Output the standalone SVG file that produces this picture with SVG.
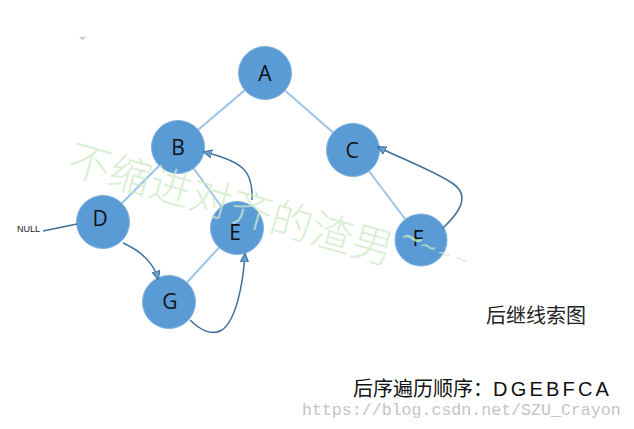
<svg xmlns="http://www.w3.org/2000/svg" width="634" height="429" viewBox="0 0 634 429">
<style>
.edge{stroke:#9dc3e6;stroke-width:2;fill:none}
.thread{stroke:#3f6f9c;stroke-width:1.5;fill:none}
.node circle{fill:#5b9bd5;stroke:#7eb1e0;stroke-width:1}
.node text{font-family:"Open Sans","Liberation Sans",sans-serif;font-size:21px;fill:#111;text-anchor:middle}
.cjk{font-family:"Noto Sans CJK SC","Liberation Sans",sans-serif}
</style>
<defs>
<marker id="arr" viewBox="0 0 10 10" refX="9" refY="5" markerWidth="9" markerHeight="9" orient="auto" markerUnits="userSpaceOnUse">
<path d="M0,0.5 L10,5 L0,9.5 Z" fill="#6a9fd0" stroke="#3f6f9c" stroke-width="1.2"/>
</marker>
</defs>
<rect width="634" height="429" fill="#fff"/>
<polygon points="79,37 86,37 82.5,40" fill="#c8c8c8"/>
<g id="edges">
<line class="edge" x1="265" y1="73" x2="178" y2="147"/>
<line class="edge" x1="265" y1="73" x2="353" y2="150"/>
<line class="edge" x1="178" y1="147" x2="103" y2="222"/>
<line class="edge" x1="178" y1="147" x2="237" y2="228"/>
<line class="edge" x1="237" y1="228" x2="169" y2="302"/>
<line class="edge" x1="353" y1="150" x2="421" y2="240"/>
</g>
<g id="nodes">
<g id="node-A" class="node"><circle cx="265" cy="73" r="26.5"/><text x="265" y="81">A</text></g>
<g id="node-B" class="node"><circle cx="178" cy="147" r="26.5"/><text x="178" y="155">B</text></g>
<g id="node-C" class="node"><circle cx="353" cy="150" r="26.5"/><text x="352" y="158">C</text></g>
<g id="node-D" class="node"><circle cx="103" cy="222" r="26.5"/><text x="100" y="226">D</text></g>
<g id="node-E" class="node"><circle cx="237" cy="228" r="26.5"/><text x="235" y="240">E</text></g>
<g id="node-F" class="node"><circle cx="421" cy="240" r="26"/><text x="418" y="246">F</text></g>
<g id="node-G" class="node"><circle cx="169" cy="302" r="26.5"/><text x="170" y="309">G</text></g>
</g>
<g id="threads">
<line class="thread" x1="43" y1="231" x2="77" y2="224"/>
<path class="thread" d="M123,243 Q152,256 158,279" marker-end="url(#arr)"/>
<path class="thread" d="M190,320 C200,330 212,336 222,330 C236,320 243,285 245,254" marker-end="url(#arr)"/>
<path class="thread" d="M252,200 C253,172 245,162 204,152" marker-end="url(#arr)"/>
<path class="thread" d="M443,228 C458,214 472,196 452,183 C432,170 402,159 378,147" marker-end="url(#arr)"/>
</g>
<text x="17" y="232" font-family="Liberation Sans Narrow,Liberation Sans,sans-serif" font-size="9" fill="#222">NULL</text>
<g id="watermark" fill="#cdeac5" fill-opacity="0.75">
<text class="cjk" transform="translate(90,163) rotate(16)" x="-21" y="16" font-size="42" font-weight="300">不缩进对齐的渣男</text>
<text font-family="DejaVu Sans,sans-serif" transform="translate(400,236) rotate(17)">
<tspan x="0" y="8" font-size="30">~</tspan><tspan x="21" y="9" font-size="22">~</tspan><tspan x="40" y="10" font-size="18">~</tspan><tspan x="58" y="10" font-size="18">~</tspan>
</text>
</g>
<text class="cjk" x="486" y="323" font-size="20" fill="#222">后继线索图</text>
<text x="353" y="396" font-size="20" fill="#111"><tspan class="cjk">后序遍历顺序：</tspan><tspan font-family="Liberation Sans,sans-serif" letter-spacing="3.2">DGEBFCA</tspan></text>
<text x="302" y="415" font-family="Liberation Mono,DejaVu Sans Mono,monospace" font-size="16.6" fill="#c4c4c4">https://blog.csdn.net/SZU_Crayon</text>
</svg>
